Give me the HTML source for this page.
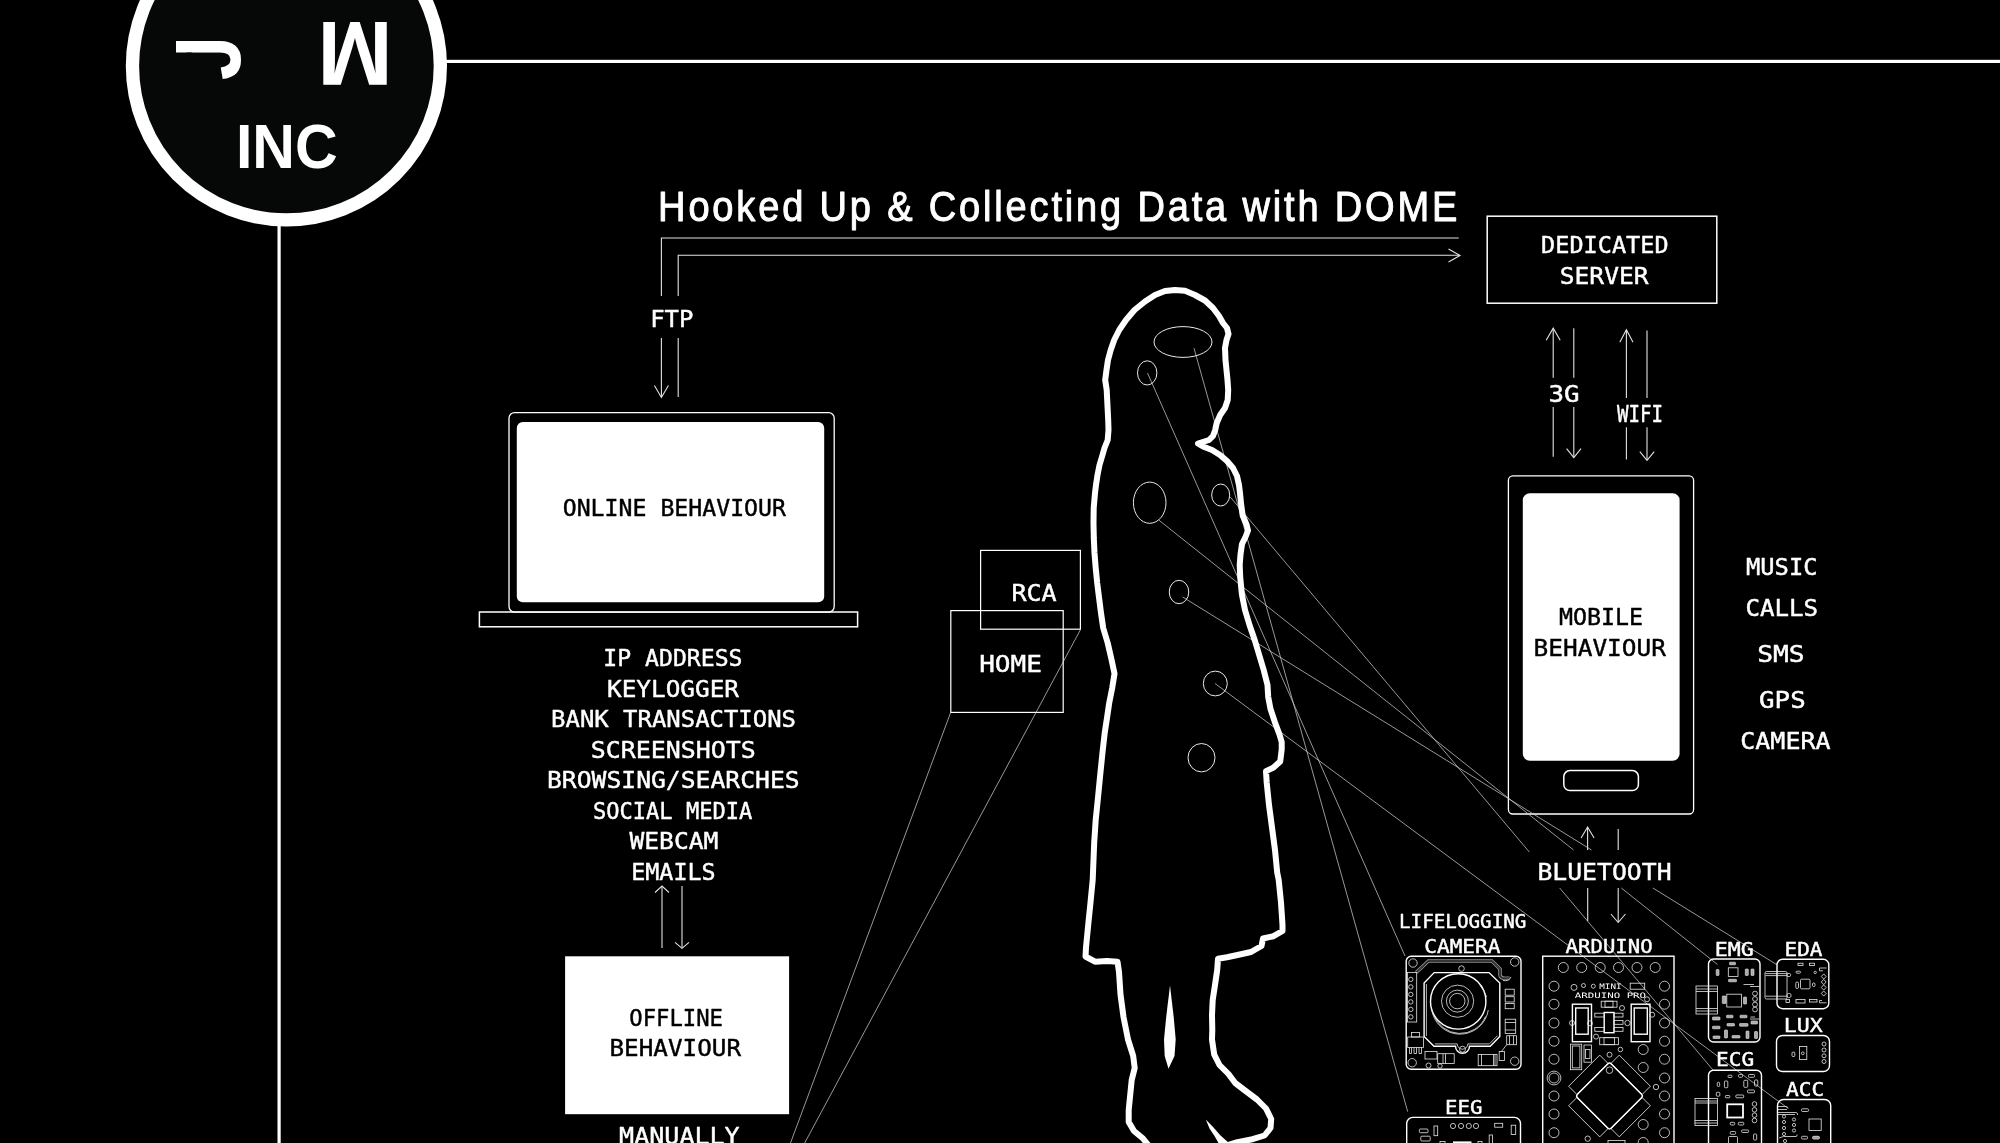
<!DOCTYPE html>
<html lang="en">
<head>
<meta charset="utf-8">
<title>Hooked Up &amp; Collecting Data with DOME</title>
<style>
html,body{margin:0;padding:0;background:#000;}
body{width:2000px;height:1143px;overflow:hidden;position:relative;}
svg{position:absolute;left:0;top:0;display:block;will-change:transform;}
.px{font-family:'DejaVu Sans Mono', 'Liberation Mono', monospace;stroke-width:0.45;stroke-linejoin:round;}
.sans{font-family:'Liberation Sans', sans-serif;}
.thin{stroke:#d8d8d8;stroke-width:0.7;fill:none;}
.ln{stroke:#e2e2e2;stroke-width:1.1;fill:none;stroke-linecap:butt;}
.w{stroke:#fff;fill:none;}
.pcb{stroke:#fff;stroke-width:1.4;fill:none;}
.pc{stroke:#e8e8e8;stroke-width:0.8;fill:none;}
</style>
</head>
<body>
<svg width="2000" height="1143" viewBox="0 0 2000 1143">

<g id="frame">
<rect x="440" y="59.8" width="1560" height="3.2" fill="#fff"/>
<rect x="277.5" y="220" width="3.2" height="923" fill="#fff"/>
<circle cx="286.4" cy="66" r="153.95" fill="#060808" stroke="#fff" stroke-width="13.3"/>
</g>
<defs><clipPath id="jc"><rect x="31.7" y="-70" width="20" height="76"/><rect x="-3" y="-48" width="54" height="54"/></clipPath></defs>
<g id="logo" class="sans" fill="#fff" font-weight="bold">
<text x="235.9" y="168.2" font-size="63.85" textLength="101.7" lengthAdjust="spacingAndGlyphs">INC</text>
<text transform="translate(355 53.45) rotate(180)" x="-37.71" y="31.14" font-size="90.6">M</text>
<g transform="translate(240.2 80.3) rotate(-90) scale(0.875 1)"><text x="0" y="0" font-size="92.1" clip-path="url(#jc)">J</text></g>
</g>
<g id="title">
<g transform="translate(660.8 0) scale(0.88 1)"><text class="sans" x="-3.06" y="220.6" font-size="43.2" fill="#fff" stroke="#fff" stroke-width="1" stroke-linejoin="round" textLength="908.2" lengthAdjust="spacing">Hooked Up &amp; Collecting Data with DOME</text></g>
</g>
<g id="ftp" class="ln">
<path d="M1458.7 238 H661.4 V296 M661.4 338 V397"/>
<path d="M654.4 385.5 L661.4 397.5 L668.4 385.5"/>
<path d="M678.2 397 V338 M678.2 296 V255.3 H1459.5"/>
<path d="M1448.5 249.0 L1460.0 255.5 L1448.5 262.0"/>
</g>
<text class="px" x="650.2" y="326.6" font-size="23" fill="#fff" stroke="#fff" textLength="43.2" lengthAdjust="spacingAndGlyphs">FTP</text>
<rect x="1487.2" y="216.2" width="229.6" height="87" class="w" stroke-width="1.5"/>
<text class="px" x="1541.1" y="253.0" font-size="23.6" fill="#fff" stroke="#fff" textLength="127.5" lengthAdjust="spacingAndGlyphs">DEDICATED</text>
<text class="px" x="1559.8" y="283.8" font-size="23.6" fill="#fff" stroke="#fff" textLength="88.7" lengthAdjust="spacingAndGlyphs">SERVER</text>
<g id="net" class="ln">
<path d="M1553.2 456.8 V407 M1553.2 377.7 V328.5"/>
<path d="M1546.2 340.2 L1553.2 328.2 L1560.2 340.2"/>
<path d="M1573.8 328.2 V377.7 M1573.8 407 V457.3"/>
<path d="M1566.6 448.7 L1573.8 457.7 L1581.0 448.7"/>
<path d="M1626.4 459.5 V427.2 M1626.4 398 V330"/>
<path d="M1619.8 342.2 L1626.4 329.7 L1633.0 342.2"/>
<path d="M1647 330.5 V398 M1647 427.2 V460"/>
<path d="M1639.8 451.7 L1647.0 460.3 L1654.2 451.7"/>
</g>
<text class="px" x="1548.5" y="401.8" font-size="23.6" fill="#fff" stroke="#fff" textLength="31.1" lengthAdjust="spacingAndGlyphs">3G</text>
<text class="px" x="1617.0" y="422.4" font-size="23.6" fill="#fff" stroke="#fff" textLength="46.1" lengthAdjust="spacingAndGlyphs">WIFI</text>
<g id="laptop">
<rect x="509" y="412.6" width="325.2" height="199.5" rx="5.5" class="w" stroke-width="1.3"/>
<rect x="516.8" y="422" width="307.4" height="180.2" rx="6" fill="#fff"/>
<rect x="479.4" y="612" width="378.2" height="14.8" class="w" stroke-width="1.5"/>
</g>
<text class="px" x="562.7" y="515.8" font-size="23.8" fill="#000" stroke="#000" textLength="223.3" lengthAdjust="spacingAndGlyphs">ONLINE BEHAVIOUR</text>
<text class="px" x="603.3" y="666.2" font-size="23.6" fill="#fff" stroke="#fff" textLength="139.2" lengthAdjust="spacingAndGlyphs">IP ADDRESS</text>
<text class="px" x="607.0" y="696.7" font-size="23.6" fill="#fff" stroke="#fff" textLength="132.0" lengthAdjust="spacingAndGlyphs">KEYLOGGER</text>
<text class="px" x="551.1" y="727.2" font-size="23.6" fill="#fff" stroke="#fff" textLength="244.9" lengthAdjust="spacingAndGlyphs">BANK TRANSACTIONS</text>
<text class="px" x="590.7" y="757.8" font-size="23.6" fill="#fff" stroke="#fff" textLength="165.0" lengthAdjust="spacingAndGlyphs">SCREENSHOTS</text>
<text class="px" x="547.0" y="788.3" font-size="23.6" fill="#fff" stroke="#fff" textLength="252.6" lengthAdjust="spacingAndGlyphs">BROWSING/SEARCHES</text>
<text class="px" x="592.9" y="818.8" font-size="23.6" fill="#fff" stroke="#fff" textLength="159.5" lengthAdjust="spacingAndGlyphs">SOCIAL MEDIA</text>
<text class="px" x="629.4" y="849.3" font-size="23.6" fill="#fff" stroke="#fff" textLength="89.0" lengthAdjust="spacingAndGlyphs">WEBCAM</text>
<text class="px" x="631.2" y="880.0" font-size="23.6" fill="#fff" stroke="#fff" textLength="84.4" lengthAdjust="spacingAndGlyphs">EMAILS</text>
<g id="earr" class="ln">
<path d="M662 948 V886.5"/>
<path d="M655.0 892.5 L662.0 886.0 L669.0 892.5"/>
<path d="M682 886 V948"/>
<path d="M675.0 942.4 L682.0 948.4 L689.0 942.4"/>
</g>
<rect x="565.1" y="956.3" width="224" height="157.9" fill="#fff"/>
<text class="px" x="629.3" y="1025.8" font-size="23.6" fill="#000" stroke="#000" textLength="93.7" lengthAdjust="spacingAndGlyphs">OFFLINE</text>
<text class="px" x="609.5" y="1056.2" font-size="23.6" fill="#000" stroke="#000" textLength="131.5" lengthAdjust="spacingAndGlyphs">BEHAVIOUR</text>
<text class="px" x="619.1" y="1144.4" font-size="23.6" fill="#fff" stroke="#fff" textLength="120.6" lengthAdjust="spacingAndGlyphs">MANUALLY</text>
<g id="boxes" class="w" stroke-width="1.2">
<rect x="980.6" y="550.4" width="99.8" height="78.8"/>
<rect x="950.8" y="610.6" width="112.4" height="101.8"/>
</g>
<text class="px" x="1011.4" y="601.4" font-size="23.4" fill="#fff" stroke="#fff" textLength="45.3" lengthAdjust="spacingAndGlyphs">RCA</text>
<text class="px" x="979.2" y="672.2" font-size="23.4" fill="#fff" stroke="#fff" textLength="62.7" lengthAdjust="spacingAndGlyphs">HOME</text>
<g class="thin">
<path d="M950.7 712.4 L790.5 1143"/>
<path d="M1080.4 629.8 L804.7 1143"/>
</g>
<g id="phone">
<rect x="1508.4" y="475.8" width="185.2" height="338.2" rx="4.5" class="w" stroke-width="1.3"/>
<rect x="1522.8" y="493.3" width="156.8" height="267.4" rx="7" fill="#fff"/>
<rect x="1563.8" y="770.6" width="74.6" height="20" rx="6" class="w" stroke-width="1.5"/>
</g>
<text class="px" x="1559.0" y="625.2" font-size="23.6" fill="#000" stroke="#000" textLength="84.1" lengthAdjust="spacingAndGlyphs">MOBILE</text>
<text class="px" x="1533.6" y="655.6" font-size="23.6" fill="#000" stroke="#000" textLength="132.3" lengthAdjust="spacingAndGlyphs">BEHAVIOUR</text>
<text class="px" x="1746.0" y="574.6" font-size="23.6" fill="#fff" stroke="#fff" textLength="71.5" lengthAdjust="spacingAndGlyphs">MUSIC</text>
<text class="px" x="1745.4" y="615.8" font-size="23.6" fill="#fff" stroke="#fff" textLength="72.7" lengthAdjust="spacingAndGlyphs">CALLS</text>
<text class="px" x="1757.2" y="661.8" font-size="23.6" fill="#fff" stroke="#fff" textLength="47.5" lengthAdjust="spacingAndGlyphs">SMS</text>
<text class="px" x="1759.1" y="708.2" font-size="23.6" fill="#fff" stroke="#fff" textLength="46.6" lengthAdjust="spacingAndGlyphs">GPS</text>
<text class="px" x="1740.3" y="749.2" font-size="23.6" fill="#fff" stroke="#fff" textLength="90.2" lengthAdjust="spacingAndGlyphs">CAMERA</text>
<g id="bt" class="ln">
<path d="M1587.6 850 V827.5"/>
<path d="M1581.1 838.0 L1587.6 827.0 L1594.1 838.0"/>
<path d="M1618.2 829 V850"/>
<path d="M1587.7 888 V921"/>
<path d="M1618.2 888 V922"/>
<path d="M1610.9 914.0 L1618.2 922.5 L1625.5 914.0"/>
</g>
<text class="px" x="1537.4" y="879.6" font-size="23.6" fill="#fff" stroke="#fff" textLength="134.2" lengthAdjust="spacingAndGlyphs">BLUETOOTH</text>
<g id="slines" class="thin">
<path d="M1147.5 373.0 L1405.0 956.0"/>
<path d="M1194.0 348.2 L1407.7 1111.7"/>
<path d="M1158.7 520.0 L1573.6 850.0 M1621.3 888.0 L1717.5 964.5"/>
<path d="M1230.0 496.7 L1529.3 852.0 M1559.7 888.0 L1713.0 1070.0"/>
<path d="M1182.7 597.0 L1591.5 850.0 M1652.9 888.0 L1776.5 964.5"/>
<path d="M1215.0 683.5 L1787.5 1108.0"/>
</g>
<g id="bcirc" stroke="#e8e8e8" stroke-width="1" fill="none">
<ellipse cx="1183" cy="342" rx="29" ry="15.4"/>
<ellipse cx="1147.2" cy="372.9" rx="9.7" ry="12.1"/>
<ellipse cx="1149.7" cy="502.7" rx="16.3" ry="20.6"/>
<ellipse cx="1220.7" cy="495" rx="9" ry="11"/>
<ellipse cx="1179" cy="592" rx="9.75" ry="11.7"/>
<ellipse cx="1215.3" cy="683.5" rx="12" ry="12.4"/>
<ellipse cx="1201.5" cy="757.7" rx="13.5" ry="14.2"/>
</g>
<path id="sil" d="M1149.0 1146.0 L1143.0 1138.5 L1134.0 1131.0 L1128.7 1122.0 L1128.7 1110.0 L1130.2 1095.0 L1131.7 1080.0 L1134.7 1068.0 L1133.2 1056.0 L1128.0 1039.5 L1123.5 1017.0 L1120.5 994.5 L1119.0 972.0 L1117.5 961.7 L1107.0 961.0 L1095.0 961.7 L1085.5 956.5 L1086.0 947.5 L1088.2 925.0 L1090.5 902.5 L1092.7 880.0 L1094.2 842.5 L1095.7 820.0 L1098.0 797.5 L1100.2 775.0 L1102.5 752.5 L1104.7 733.0 L1107.0 718.0 L1109.2 703.0 L1112.2 688.0 L1114.5 673.7 L1111.5 659.5 L1107.7 643.0 L1103.2 628.0 L1101.0 613.0 L1098.7 595.0 L1097.2 583.0 L1095.7 568.0 L1094.5 553.0 L1093.8 538.0 L1093.5 523.0 L1093.7 508.0 L1095.0 493.0 L1096.0 485.0 L1097.5 475.0 L1099.5 465.0 L1102.2 456.0 L1104.5 448.0 L1107.7 440.0 L1108.5 430.0 L1108.2 420.0 L1107.7 410.0 L1107.2 400.0 L1106.7 390.0 L1105.2 380.0 L1106.5 370.0 L1108.0 360.0 L1110.7 350.0 L1114.2 340.0 L1119.2 330.0 L1126.0 320.0 L1134.5 310.0 L1145.0 301.5 L1155.0 295.0 L1165.0 291.0 L1175.0 290.0 L1185.0 290.8 L1195.0 295.0 L1205.0 300.5 L1213.0 308.0 L1219.0 316.0 L1223.0 323.0 L1227.0 328.0 L1228.5 334.0 L1226.5 340.0 L1225.0 348.0 L1225.5 360.0 L1226.5 370.0 L1227.5 380.0 L1228.2 390.0 L1227.7 400.0 L1225.0 408.0 L1220.2 415.0 L1216.7 423.0 L1215.2 430.0 L1213.0 436.0 L1209.0 440.0 L1198.0 443.5 L1203.0 446.5 L1212.0 450.0 L1220.0 455.0 L1227.0 461.0 L1233.0 468.0 L1237.0 476.0 L1239.0 485.0 L1240.0 493.0 L1241.2 505.0 L1242.7 515.5 L1246.5 524.5 L1248.0 530.5 L1245.7 536.5 L1242.0 544.0 L1240.5 554.5 L1239.7 565.0 L1240.2 577.0 L1241.2 587.5 L1242.0 595.0 L1245.0 610.0 L1249.5 625.0 L1254.7 640.0 L1259.2 655.0 L1263.7 670.0 L1267.5 685.0 L1268.2 697.0 L1270.5 709.0 L1275.0 722.5 L1279.5 734.5 L1281.7 742.0 L1281.7 749.5 L1280.2 761.5 L1273.5 767.5 L1266.0 771.2 L1266.7 782.5 L1269.0 805.0 L1272.0 827.5 L1275.0 850.0 L1277.2 872.5 L1278.7 880.0 L1281.0 902.5 L1282.5 925.0 L1282.5 931.0 L1273.5 936.2 L1263.0 938.5 L1261.5 946.0 L1251.0 952.0 L1237.5 955.0 L1227.0 957.2 L1218.0 958.7 L1217.2 970.0 L1215.0 985.0 L1212.7 1000.0 L1212.0 1015.0 L1212.3 1030.0 L1212.0 1039.5 L1214.2 1054.5 L1219.5 1065.0 L1228.5 1074.0 L1235.2 1083.0 L1245.0 1090.5 L1257.0 1099.5 L1266.0 1108.5 L1271.2 1119.0 L1270.5 1128.0 L1264.5 1135.5 L1252.5 1139.2 L1237.5 1142.2 L1225.0 1146.0" stroke="#fff" stroke-width="6" fill="none" stroke-linejoin="round" stroke-linecap="round"/>
<path d="M1170 985.5 L1173.7 1017 L1175.7 1039.5 L1174.5 1056 L1168.5 1068.7 L1164.7 1056 L1164 1039.5 L1166.2 1017 Z" fill="#fff"/>
<path d="M1205.8 1119.5 L1213.5 1127.5 L1220.5 1135.5 L1229 1143 L1218.5 1143 L1214.5 1136 L1209.5 1128.5 Z" fill="#fff"/>
<text class="px" x="1399.0" y="927.6" font-size="18.8" fill="#fff" stroke="#fff" stroke-width="0.25" textLength="127.4" lengthAdjust="spacingAndGlyphs">LIFELOGGING</text>
<text class="px" x="1424.3" y="953.3" font-size="19" fill="#fff" stroke="#fff" stroke-width="0.25" textLength="76.1" lengthAdjust="spacingAndGlyphs">CAMERA</text>
<text class="px" x="1565.6" y="953.3" font-size="19" fill="#fff" stroke="#fff" stroke-width="0.25" textLength="87.0" lengthAdjust="spacingAndGlyphs">ARDUINO</text>
<text class="px" x="1599.3" y="988.6" font-size="7.4" fill="#fff" textLength="22.3" lengthAdjust="spacingAndGlyphs">MINI</text>
<text class="px" x="1574.8" y="998.3" font-size="7.4" fill="#fff" textLength="71.3" lengthAdjust="spacingAndGlyphs">ARDUINO PRO</text>
<text class="px" x="1445.0" y="1114.1" font-size="18.6" fill="#fff" stroke="#fff" stroke-width="0.25" textLength="37.4" lengthAdjust="spacingAndGlyphs">EEG</text>
<text class="px" x="1714.7" y="955.6" font-size="19.2" fill="#fff" stroke="#fff" stroke-width="0.25" textLength="39.1" lengthAdjust="spacingAndGlyphs">EMG</text>
<text class="px" x="1784.5" y="955.6" font-size="19.2" fill="#fff" stroke="#fff" stroke-width="0.25" textLength="37.9" lengthAdjust="spacingAndGlyphs">EDA</text>
<text class="px" x="1783.7" y="1031.9" font-size="19" fill="#fff" stroke="#fff" stroke-width="0.25" textLength="39.0" lengthAdjust="spacingAndGlyphs">LUX</text>
<text class="px" x="1716.0" y="1066.3" font-size="19" fill="#fff" stroke="#fff" stroke-width="0.25" textLength="38.1" lengthAdjust="spacingAndGlyphs">ECG</text>
<text class="px" x="1786.1" y="1095.9" font-size="19" fill="#fff" stroke="#fff" stroke-width="0.25" textLength="38.0" lengthAdjust="spacingAndGlyphs">ACC</text>
<g id="cam">
<rect x="1406.2" y="956.2" width="114.8" height="113.1" rx="5" class="pcb"/>
<circle cx="1413.0" cy="963.0" r="4.2" class="pc"/>
<circle cx="1514.7" cy="962.0" r="4.2" class="pc"/>
<circle cx="1412.2" cy="1062.7" r="4.2" class="pc"/>
<circle cx="1514.7" cy="1061.2" r="4.2" class="pc"/>
<path d="M1416.2 972.5 L1428.5 961 H1492 L1500 969 V975 q0.3 3 4.5 3.4 H1509.5" class="pc" style="stroke:#8c8c8c;stroke-width:3.6"/>
<path d="M1416.2 972.5 L1428.5 961 H1492 L1500 969 V975 q0.3 3 4.5 3.4 H1509.5" class="pc" style="stroke:#000;stroke-width:1.6"/>
<path d="M1416.2 972.5 L1428.5 961 H1492 L1500 969 V975 q0.3 3 4.5 3.4 H1509.5" class="pc" style="stroke:#777;stroke-width:0.5"/>
<path d="M1503 980.5 q6 1 8 -3.5" class="pc"/>
<path d="M1424.1 983 L1434.2 972.6 H1489 L1499.8 983 V1036.5 L1490.2 1046.2 H1469.5 A7 7 0 0 1 1455.5 1046.2 H1434 L1424.1 1036.5 Z" class="pcb"/>
<path d="M1426.4 1036 V984 M1434.8 1043.9 H1457.2 A5.3 5.3 0 0 0 1467.8 1043.9 H1489.4 L1497.5 1035.7" class="pc"/>
<circle cx="1461.5" cy="968.6" r="2.8" class="pc"/>
<circle cx="1462.5" cy="1049.2" r="3" class="pc"/>
<circle cx="1458.2" cy="1001.4" r="27.7" class="pcb"/>
<path d="M1431.6 1008.5 A28.6 28.6 0 0 0 1488.3 1010 M1486.6 997 A28.6 28.6 0 0 0 1480 985.5" class="pc"/>
<path d="M1433.8 1014 A27.5 27.5 0 0 0 1485.5 1016.5" class="pc"/>
<circle cx="1457.6" cy="1001.2" r="16.1" class="pc"/>
<circle cx="1457.4" cy="1001.1" r="11" class="pc"/>
<circle cx="1457.3" cy="1001.1" r="7.7" class="pc"/>
<rect x="1407.6" y="972.4" width="9.1" height="49.6" class="pc"/>
<circle cx="1410.8" cy="979.4" r="2.2" class="pc"/>
<circle cx="1410.8" cy="986.9" r="2.2" class="pc"/>
<circle cx="1410.8" cy="994.4" r="2.2" class="pc"/>
<circle cx="1410.8" cy="1001.9" r="2.2" class="pc"/>
<circle cx="1410.8" cy="1009.4" r="2.2" class="pc"/>
<circle cx="1410.8" cy="1016.9" r="2.2" class="pc"/>
<rect x="1505.2" y="989.2" width="9.0" height="6.0" class="pc"/>
<rect x="1505.2" y="996.7" width="9.0" height="5.3" class="pc"/>
<rect x="1505.2" y="1003.5" width="9.0" height="5.2" class="pc"/>
<rect x="1505.2" y="1019.2" width="10.5" height="14.3" class="pc"/>
<path d="M1505.2 1022.5 H1515.7 M1505.2 1030 H1515.7" class="pc"/>
<rect x="1506.7" y="1035.7" width="9.8" height="9.0" class="pc"/>
<path d="M1509.5 1035.7 V1044.7 M1513.5 1035.7 V1044.7" class="pc"/>
<path d="M1506.7 1044.7 L1501 1052" class="pc"/>
<rect x="1407.7" y="1037.0" width="15.8" height="10.5" class="pc"/>
<rect x="1411.5" y="1032.5" width="8.0" height="4.5" class="pc"/>
<path d="M1409.5 1047.5 V1053.5 H1411.5 V1047.5 M1414 1047.5 V1053.5 H1416.5 V1047.5 M1419 1047.5 V1053.5 H1421.5 V1047.5" class="pc"/>
<rect x="1425.0" y="1051.5" width="12.0" height="7.5" class="pc"/>
<rect x="1437.7" y="1053.7" width="16.5" height="9.8" class="pc"/>
<path d="M1443 1053.7 V1063.5 M1445.5 1053.7 V1063.5" class="pc"/>
<rect x="1478.2" y="1054.5" width="18.8" height="11.2" class="pc"/>
<path d="M1481.5 1054.5 V1065.7 M1493.5 1054.5 V1065.7 M1495 1054.5 V1065.7" class="pc"/>
<rect x="1499.2" y="1051.5" width="5.3" height="9.0" class="pc"/>
<circle cx="1428.5" cy="1065.5" r="2.5" class="pc"/>
<circle cx="1440.0" cy="1066.0" r="2.2" class="pc"/>
</g>
<g id="ard">
<rect x="1542.7" y="956.2" width="131.3" height="193.8" class="pcb"/>
<circle cx="1563.3" cy="967.5" r="5" class="pc"/>
<circle cx="1581.7" cy="967.5" r="5" class="pc"/>
<circle cx="1600.2" cy="967.5" r="5" class="pc"/>
<circle cx="1618.5" cy="967.5" r="5" class="pc"/>
<circle cx="1637.0" cy="967.5" r="5" class="pc"/>
<circle cx="1655.2" cy="967.5" r="5" class="pc"/>
<circle cx="1554.0" cy="986.2" r="5" class="pc"/>
<circle cx="1664.5" cy="986.2" r="5" class="pc"/>
<circle cx="1554.0" cy="1004.2" r="5" class="pc"/>
<circle cx="1664.5" cy="1004.2" r="5" class="pc"/>
<circle cx="1554.0" cy="1023.0" r="5" class="pc"/>
<circle cx="1664.5" cy="1023.0" r="5" class="pc"/>
<circle cx="1554.0" cy="1041.2" r="5" class="pc"/>
<circle cx="1664.5" cy="1041.2" r="5" class="pc"/>
<circle cx="1554.0" cy="1059.2" r="5" class="pc"/>
<circle cx="1664.5" cy="1059.2" r="5" class="pc"/>
<circle cx="1554.0" cy="1078.0" r="5" class="pc"/>
<circle cx="1664.5" cy="1078.0" r="5" class="pc"/>
<circle cx="1554.0" cy="1096.0" r="5" class="pc"/>
<circle cx="1664.5" cy="1096.0" r="5" class="pc"/>
<circle cx="1554.0" cy="1114.0" r="5" class="pc"/>
<circle cx="1664.5" cy="1114.0" r="5" class="pc"/>
<circle cx="1554.0" cy="1132.7" r="5" class="pc"/>
<circle cx="1664.5" cy="1132.7" r="5" class="pc"/>
<circle cx="1554.0" cy="1078.0" r="6.9" class="pc"/>
<circle cx="1643.2" cy="1049.5" r="5" class="pc"/>
<circle cx="1643.2" cy="1067.5" r="5" class="pc"/>
<circle cx="1643.2" cy="1124.5" r="5" class="pc"/>
<circle cx="1643.2" cy="1142.5" r="5" class="pc"/>
<rect x="1572.4" y="1004.2" width="19.1" height="37.5" class="pcb"/>
<rect x="1575.7" y="1008.0" width="12.5" height="26.2" class="pcb"/>
<rect x="1631.2" y="1004.2" width="18.8" height="37.5" class="pcb"/>
<rect x="1634.2" y="1008.0" width="13.1" height="26.2" class="pcb"/>
<rect x="1604.2" y="1012.5" width="9.8" height="20.2" class="pcb"/>
<rect x="1594.8" y="1013.2" width="9.4" height="3.8" class="pc"/>
<rect x="1594.8" y="1027.5" width="9.4" height="3.8" class="pc"/>
<rect x="1614.0" y="1013.2" width="9.0" height="3.8" class="pc"/>
<rect x="1614.0" y="1020.5" width="9.0" height="3.8" class="pc"/>
<rect x="1614.0" y="1027.5" width="9.0" height="3.8" class="pc"/>
<rect x="1601.2" y="1001.2" width="15.8" height="6.0" class="pc"/>
<rect x="1605.0" y="1001.2" width="8.0" height="6.0" class="pc"/>
<rect x="1599.7" y="1037.7" width="18.8" height="7.0" class="pc"/>
<rect x="1604.0" y="1037.7" width="10.5" height="7.0" class="pc"/>
<rect x="1630.2" y="983.2" width="14.5" height="6.0" class="pc"/>
<rect x="1570.5" y="1044.2" width="11.2" height="25.5" class="pc"/>
<rect x="1572.3" y="1046.0" width="7.6" height="21.9" class="pc"/>
<rect x="1584.0" y="1045.0" width="7.5" height="17.2" class="pc"/>
<rect x="1585.5" y="1049.5" width="4.5" height="9.0" class="pc"/>
<circle cx="1574.0" cy="987.4" r="3" class="pc"/>
<circle cx="1583.5" cy="985.5" r="2" class="pc"/>
<circle cx="1593.3" cy="986.2" r="2" class="pc"/>
<circle cx="1647.0" cy="999.3" r="2.5" class="pc"/>
<circle cx="1622.0" cy="1008.0" r="2.5" class="pc"/>
<circle cx="1627.5" cy="1023.0" r="2.7" class="pc"/>
<circle cx="1652.2" cy="1014.7" r="2.5" class="pc"/>
<circle cx="1596.0" cy="1036.6" r="2.5" class="pc"/>
<circle cx="1572.0" cy="1023.0" r="2.5" class="pc"/>
<circle cx="1590.0" cy="1023.3" r="2.5" class="pc"/>
<circle cx="1609.5" cy="1054.7" r="2.5" class="pc"/>
<circle cx="1620.4" cy="1049.5" r="2.3" class="pc"/>
<circle cx="1656.0" cy="1087.0" r="2.7" class="pc"/>
<circle cx="1587.7" cy="1138.7" r="2.7" class="pc"/>
<g transform="translate(1609.5 1096) rotate(45)">
<rect x="-23.9" y="-23.9" width="47.8" height="47.8" rx="2.5" class="pcb"/>
<rect x="-22" y="-35.8" width="44" height="11.4" class="pc" transform="rotate(0)"/>
<rect x="-22" y="-35.8" width="44" height="11.4" class="pc" transform="rotate(90)"/>
<rect x="-22" y="-35.8" width="44" height="11.4" class="pc" transform="rotate(180)"/>
<rect x="-22" y="-35.8" width="44" height="11.4" class="pc" transform="rotate(270)"/>
</g>
<circle cx="1609.5" cy="1070.2" r="3.3" class="pc"/>
<rect x="1608.0" y="1140.5" width="17.0" height="5.5" class="pc"/>
</g>
<g id="eeg">
<rect x="1406.7" y="1117.4" width="113.8" height="42.6" rx="6" class="pcb"/>
<circle cx="1453.0" cy="1126.0" r="2.6" class="pc"/>
<circle cx="1461.0" cy="1126.0" r="2.6" class="pc"/>
<circle cx="1468.8" cy="1126.0" r="2.6" class="pc"/>
<circle cx="1476.0" cy="1126.0" r="2.6" class="pc"/>
<rect x="1419.4" y="1129.0" width="8.6" height="3.7" rx="1" class="pc"/>
<rect x="1420.8" y="1136.2" width="9.4" height="4.8" rx="1" class="pc"/>
<rect x="1434.0" y="1126.0" width="3.7" height="9.7" class="pc"/>
<rect x="1494.7" y="1123.3" width="8.0" height="3.9" class="pc"/>
<rect x="1511.2" y="1125.2" width="4.5" height="9.3" class="pc"/>
<rect x="1489.2" y="1135.0" width="3.3" height="10.0" class="pc"/>
<rect x="1453.0" y="1141.4" width="18.5" height="2.6" fill="#fff"/>
<rect x="1440.0" y="1141.5" width="5.0" height="4.5" class="pc"/>
<rect x="1478.0" y="1141.5" width="4.0" height="4.5" class="pc"/>
</g>
<g id="emg">
<rect x="1708.5" y="959.0" width="51.5" height="83.0" rx="5" class="pcb"/>
<rect x="1696.0" y="986.0" width="21.5" height="28.0" class="pc"/>
<path d="M1696 989 H1717.5 M1696 991.5 H1717.5 M1696 1008.5 H1717.5 M1696 1011 H1717.5" class="pc"/>
<rect x="1728.3" y="967.8" width="9.7" height="8.7" class="pc"/>
<rect x="1726.8" y="994.2" width="14.7" height="12.8" class="pc"/>
<circle cx="1755.0" cy="993.5" r="2.4" class="pc"/>
<circle cx="1755.0" cy="999.0" r="2.4" class="pc"/>
<circle cx="1755.0" cy="1004.5" r="2.4" class="pc"/>
<circle cx="1755.0" cy="1009.5" r="2.4" class="pc"/>
<rect x="1729.5" y="962.2" width="6.0" height="2.6" rx="0.6" class="pc" style="fill:#aaa;stroke-width:0.6"/>
<rect x="1716.2" y="969.5" width="2.8" height="6.0" rx="0.6" class="pc" style="fill:#aaa;stroke-width:0.6"/>
<rect x="1745.3" y="969.0" width="3.0" height="6.5" rx="0.6" class="pc" style="fill:#aaa;stroke-width:0.6"/>
<rect x="1751.0" y="969.0" width="3.0" height="6.5" rx="0.6" class="pc" style="fill:#aaa;stroke-width:0.6"/>
<rect x="1728.5" y="979.3" width="8.0" height="2.5" rx="0.6" class="pc" style="fill:#aaa;stroke-width:0.6"/>
<rect x="1722.3" y="996.0" width="3.7" height="7.5" rx="0.6" class="pc" style="fill:#aaa;stroke-width:0.6"/>
<rect x="1743.5" y="997.0" width="3.0" height="7.0" rx="0.6" class="pc" style="fill:#aaa;stroke-width:0.6"/>
<rect x="1712.5" y="1017.0" width="7.5" height="3.0" rx="0.6" class="pc" style="fill:#aaa;stroke-width:0.6"/>
<rect x="1726.5" y="1015.2" width="6.5" height="2.6" rx="0.6" class="pc" style="fill:#aaa;stroke-width:0.6"/>
<rect x="1740.0" y="1015.2" width="7.0" height="2.6" rx="0.6" class="pc" style="fill:#aaa;stroke-width:0.6"/>
<rect x="1727.0" y="1023.5" width="7.5" height="2.5" rx="0.6" class="pc" style="fill:#aaa;stroke-width:0.6"/>
<rect x="1739.5" y="1023.5" width="8.5" height="2.7" rx="0.6" class="pc" style="fill:#aaa;stroke-width:0.6"/>
<rect x="1712.5" y="1026.2" width="7.5" height="2.6" rx="0.6" class="pc" style="fill:#aaa;stroke-width:0.6"/>
<rect x="1751.0" y="1021.0" width="6.5" height="3.0" rx="0.6" class="pc" style="fill:#aaa;stroke-width:0.6"/>
<rect x="1724.5" y="1030.0" width="3.0" height="8.0" rx="0.6" class="pc" style="fill:#aaa;stroke-width:0.6"/>
<rect x="1746.0" y="1031.0" width="3.0" height="7.5" rx="0.6" class="pc" style="fill:#aaa;stroke-width:0.6"/>
<rect x="1754.5" y="1031.5" width="3.0" height="7.0" rx="0.6" class="pc" style="fill:#aaa;stroke-width:0.6"/>
<rect x="1732.0" y="1035.5" width="8.0" height="2.5" rx="0.6" class="pc" style="fill:#aaa;stroke-width:0.6"/>
<rect x="1713.0" y="1036.0" width="7.0" height="2.5" rx="0.6" class="pc" style="fill:#aaa;stroke-width:0.6"/>
<path d="M1743.5 984.5 H1754 M1750 986.5 H1759.5 M1750.5 1017 H1755 M1750 1019 H1759" class="pc"/>
</g>
<g id="eda">
<rect x="1777.0" y="959.3" width="51.8" height="49.4" rx="5.5" class="pcb"/>
<rect x="1765.0" y="971.5" width="22.0" height="27.5" rx="1.5" class="pc"/>
<path d="M1765.5 973.6 H1787 M1765.5 975.6 H1787 M1765.5 996.2 H1787" class="pc"/>
<rect x="1787.0" y="973.5" width="3.5" height="3.0" rx="1" class="pc"/>
<rect x="1787.0" y="993.5" width="4.0" height="4.0" rx="1.5" class="pc"/>
<rect x="1800.5" y="979.2" width="9.5" height="9.6" rx="1" class="pc"/>
<path d="M1823.7 973.9 l2.4 2.6 l-2.4 2.6 l-2.4 -2.6 Z" class="pc"/>
<path d="M1823.7 979.4 l2.4 2.6 l-2.4 2.6 l-2.4 -2.6 Z" class="pc"/>
<path d="M1823.7 984.9 l2.4 2.6 l-2.4 2.6 l-2.4 -2.6 Z" class="pc"/>
<path d="M1823.7 990.9 l2.4 2.6 l-2.4 2.6 l-2.4 -2.6 Z" class="pc"/>
<rect x="1798.0" y="963.2" width="5.0" height="2.3" class="pc"/>
<rect x="1809.5" y="963.2" width="5.0" height="2.3" class="pc"/>
<rect x="1796.0" y="999.5" width="9.0" height="3.5" class="pc"/>
<rect x="1809.5" y="999.5" width="7.5" height="2.5" class="pc"/>
<rect x="1786.0" y="999.5" width="3.5" height="3.0" class="pc"/>
<rect x="1795.8" y="982.0" width="2.7" height="6.5" rx="1.3" class="pc"/>
<rect x="1812.5" y="983.0" width="2.5" height="3.5" rx="1" class="pc"/>
<circle cx="1815.2" cy="972.4" r="1.2" class="pc"/>
<rect x="1796.0" y="971.2" width="4.5" height="2.0" rx="1" class="pc"/>
<path d="M1826.5 968 H1819.5 V970.8 H1823 M1826.5 1002.8 H1819.5 V1000.5 H1822" class="pc"/>
</g>
<g id="lux">
<rect x="1776.5" y="1035.5" width="53.0" height="36.0" rx="6" class="pcb"/>
<rect x="1799.5" y="1046.5" width="7.3" height="13.0" class="pc"/>
<circle cx="1802.8" cy="1053.3" r="1.4" class="pc"/>
<rect x="1792.0" y="1052.2" width="2.8" height="4.3" rx="0.8" class="pc"/>
<circle cx="1824.0" cy="1044.0" r="2" class="pc"/>
<circle cx="1824.0" cy="1050.0" r="2" class="pc"/>
<circle cx="1824.0" cy="1055.8" r="2" class="pc"/>
<circle cx="1824.0" cy="1061.5" r="2" class="pc"/>
</g>
<g id="ecg">
<rect x="1708.5" y="1070.2" width="53.0" height="89.8" rx="5" class="pcb"/>
<rect x="1695.0" y="1098.5" width="22.5" height="27.0" class="pc"/>
<path d="M1695 1101 H1717.5 M1695 1103 H1717.5 M1694.5 1120.5 H1717.5 M1694.5 1123 H1717.5" class="pc"/>
<rect x="1727.2" y="1104.3" width="15.8" height="13.2" class="pcb" style="stroke-width:1.8"/>
<circle cx="1754.5" cy="1104.0" r="2.3" class="pc"/>
<circle cx="1754.5" cy="1109.8" r="2.3" class="pc"/>
<circle cx="1754.5" cy="1115.2" r="2.3" class="pc"/>
<circle cx="1754.5" cy="1120.5" r="2.3" class="pc"/>
<rect x="1728.0" y="1075.2" width="4.0" height="2.3" rx="0.9" class="pc"/>
<rect x="1738.5" y="1074.5" width="4.0" height="2.8" rx="0.9" class="pc"/>
<rect x="1748.5" y="1074.5" width="6.0" height="2.8" rx="0.9" class="pc"/>
<rect x="1717.3" y="1082.3" width="2.3" height="4.2" rx="0.9" class="pc"/>
<rect x="1724.4" y="1081.0" width="3.4" height="6.7" rx="0.9" class="pc"/>
<rect x="1743.8" y="1080.3" width="3.9" height="7.0" rx="0.9" class="pc"/>
<rect x="1754.5" y="1080.0" width="3.3" height="6.0" rx="0.9" class="pc"/>
<rect x="1747.5" y="1090.0" width="7.0" height="2.8" rx="0.9" class="pc"/>
<rect x="1716.3" y="1092.3" width="3.5" height="3.9" rx="0.9" class="pc"/>
<rect x="1725.3" y="1095.5" width="4.5" height="2.3" rx="0.9" class="pc"/>
<rect x="1735.8" y="1095.0" width="7.9" height="2.8" rx="0.9" class="pc"/>
<rect x="1730.2" y="1122.3" width="4.5" height="2.7" rx="0.9" class="pc"/>
<rect x="1738.3" y="1122.3" width="5.5" height="2.7" rx="0.9" class="pc"/>
<rect x="1741.6" y="1130.0" width="7.0" height="2.5" rx="0.9" class="pc"/>
<rect x="1730.3" y="1131.5" width="5.3" height="2.8" rx="0.9" class="pc"/>
<rect x="1753.6" y="1134.0" width="3.1" height="6.0" rx="0.9" class="pc"/>
<rect x="1728.5" y="1136.5" width="9.0" height="9.5" rx="0.9" class="pc"/>
</g>
<g id="acc">
<rect x="1777.5" y="1099.5" width="53.2" height="60.5" rx="6" class="pcb"/>
<rect x="1809.0" y="1119.0" width="12.2" height="11.5" class="pc"/>
<path d="M1778 1106.5 H1786.5 q1.5 0.3 1.5 2 M1778 1109.5 H1787 M1778 1112.5 H1796 q2 0.2 1.6 2.5 M1778 1114.5 H1795" class="pc"/>
<circle cx="1784.0" cy="1116.5" r="1.6" class="pc"/>
<circle cx="1784.0" cy="1122.0" r="1.6" class="pc"/>
<circle cx="1784.0" cy="1128.0" r="1.6" class="pc"/>
<circle cx="1784.0" cy="1134.0" r="1.6" class="pc"/>
<circle cx="1794.0" cy="1119.5" r="1.6" class="pc"/>
<circle cx="1794.0" cy="1125.0" r="1.6" class="pc"/>
<circle cx="1794.0" cy="1130.5" r="1.6" class="pc"/>
<rect x="1801.5" y="1108.8" width="7.0" height="2.7" rx="1" class="pc"/>
<rect x="1801.5" y="1136.3" width="6.0" height="2.7" rx="1" class="pc"/>
<rect x="1812.5" y="1136.3" width="7.0" height="2.7" rx="1.3" class="pc" style="fill:#999"/>
<path d="M1779 1138 L1783.5 1136.5 H1796 q1.5 -0.3 1 -2" class="pc"/>
<circle cx="1785.0" cy="1141.0" r="1.6" class="pc"/>
</g>
</svg>
</body>
</html>
